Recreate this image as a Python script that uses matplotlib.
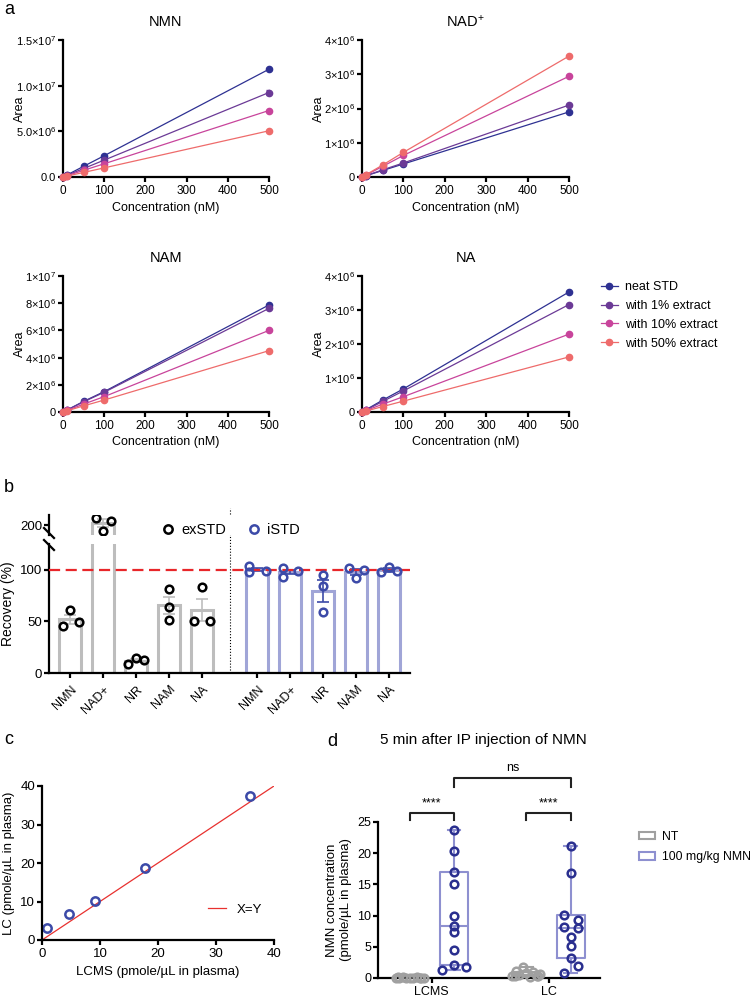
import numpy as np
import matplotlib
matplotlib.use('Agg')
import matplotlib.pyplot as plt
from matplotlib.lines import Line2D
from matplotlib.patches import Patch

plt.rcParams['font.family'] = ['Liberation Sans', 'DejaVu Sans']
plt.rcParams['mathtext.fontset'] = 'custom'
plt.rcParams['mathtext.rm'] = 'Liberation Sans'
plt.rcParams['mathtext.it'] = 'Liberation Sans:italic'
plt.rcParams['mathtext.bf'] = 'Liberation Sans:bold'
plt.rcParams['axes.linewidth'] = 1.6
plt.rcParams['xtick.major.width'] = 1.6
plt.rcParams['ytick.major.width'] = 1.6
plt.rcParams['xtick.major.size'] = 3.5
plt.rcParams['ytick.major.size'] = 3.5
plt.rcParams['xtick.major.pad'] = 2.5
plt.rcParams['ytick.major.pad'] = 1.5
plt.rcParams['xtick.labelsize'] = 8.5
plt.rcParams['ytick.labelsize'] = 8.5
plt.rcParams['axes.labelsize'] = 9

# ---------------- panel a: calibration curves ----------------
conc = [0, 10, 50, 100, 500]
series_names = ['neat STD', 'with 1% extract', 'with 10% extract', 'with 50% extract']
series_colors = ['#2e3192', '#6b3a96', '#c8449b', '#ee6b6b']

nmn_area = [
    [0, 2.3e5, 1.17e6, 2.33e6, 1.18e7],
    [0, 1.85e5, 0.93e6, 1.85e6, 9.25e6],
    [0, 1.45e5, 0.73e6, 1.45e6, 7.28e6],
    [0, 1.0e5, 0.50e6, 1.0e6, 5.06e6],
]
nmn_err_1pct = [0, 0, 0, 0, 0.3e6]
nad_area = [
    [0, 0.04e6, 0.19e6, 0.38e6, 1.90e6],
    [0, 0.04e6, 0.21e6, 0.41e6, 2.10e6],
    [0, 0.06e6, 0.31e6, 0.63e6, 2.94e6],
    [0, 0.07e6, 0.35e6, 0.72e6, 3.53e6],
]
nam_area = [
    [0, 1.5e5, 0.78e6, 1.50e6, 7.87e6],
    [0, 1.45e5, 0.75e6, 1.45e6, 7.62e6],
    [0, 1.15e5, 0.58e6, 1.13e6, 6.00e6],
    [0, 0.9e5, 0.45e6, 0.88e6, 4.51e6],
]
na_area = [
    [0, 0.07e6, 0.35e6, 0.68e6, 3.53e6],
    [0, 0.06e6, 0.31e6, 0.62e6, 3.16e6],
    [0, 0.045e6, 0.23e6, 0.45e6, 2.29e6],
    [0, 0.03e6, 0.16e6, 0.32e6, 1.62e6],
]

nmn_yticks = [0, 5e6, 1e7, 1.5e7]
nmn_ylabels = ['0.0', '5.0×10$^{6}$', '1.0×10$^{7}$', '1.5×10$^{7}$']
small_yticks = [0, 1e6, 2e6, 3e6, 4e6]
small_ylabels = ['0', '1×10$^{6}$', '2×10$^{6}$', '3×10$^{6}$', '4×10$^{6}$']
nam_yticks = [0, 2e6, 4e6, 6e6, 8e6, 1e7]
nam_ylabels = ['0', '2×10$^{6}$', '4×10$^{6}$', '6×10$^{6}$', '8×10$^{6}$', '1×10$^{7}$']

# ---------------- panel b: recovery ----------------
compounds = ['NMN', 'NAD+', 'NR', 'NAM', 'NA']
ex_recovery = [[46, 61, 49], [207, 194, 204], [9, 14.5, 12.5], [81, 64, 51.5], [50, 83, 50]]
is_recovery = [[104, 98, 99], [101.6, 93.5, 98.4], [95, 84, 59.5], [101.6, 92, 100], [97.4, 103, 99]]
ex_jit = [[-0.22, 0, 0.26], [-0.22, 0, 0.25], [-0.23, 0, 0.24], [0, 0, 0], [-0.23, 0, 0.25]]
is_jit = [[-0.25, -0.25, 0.25], [-0.23, -0.23, 0.25], [0, 0, 0], [-0.22, 0, 0.25], [-0.24, 0, 0.24]]

# ---------------- panel c: LC vs LCMS ----------------
lcms_x = [0.86, 4.6, 9.2, 17.8, 35.9]
lc_y = [3.0, 6.7, 10.1, 18.8, 37.4]

# ---------------- panel d: plasma NMN ----------------
methods = ['LCMS', 'LC']
nt_vals = [
    [0.02, 0.05, 0.10, 0.03, 0.08, 0.0, 0.12, 0.06, 0.04, 0.09, 0.07],
    [0.3, 1.2, 0.5, 1.7, 0.8, 0.2, 1.0, 0.4, 0.6, 0.25, 0.35],
]
nmn_vals = [
    [23.77, 20.3, 17.0, 15.06, 9.99, 8.39, 7.37, 4.54, 2.03, 1.23, 1.71],
    [21.1, 16.8, 10.15, 9.35, 8.17, 8.0, 6.5, 5.2, 3.2, 1.87, 0.8],
]
nt_jit = [-0.12, -0.09, -0.06, -0.03, 0.0, 0.03, 0.06, 0.09, 0.12, -0.1, 0.1]
nmn_jit = [
    [0, 0, 0, 0, 0, 0, 0, 0, 0, -0.1, 0.1],
    [0, 0, -0.06, 0.06, -0.06, 0.06, 0, 0, 0, 0.06, -0.06],
]

W, H = 755, 999
fig = plt.figure(figsize=(W / 100, H / 100), dpi=100)


def rect(x0, y0, x1, y1):
    return [x0 / W, 1 - y1 / H, (x1 - x0) / W, (y1 - y0) / H]


def clean(ax):
    ax.spines['top'].set_visible(False)
    ax.spines['right'].set_visible(False)


# ---- panel a
a_specs = [
    ('NMN', nmn_area, (63, 40, 269, 177), 1.5e7, nmn_yticks, nmn_ylabels),
    ('NAD$^{+}$', nad_area, (362, 40, 569, 177), 4e6, small_yticks, small_ylabels),
    ('NAM', nam_area, (63, 276, 269, 412), 1e7, nam_yticks, nam_ylabels),
    ('NA', na_area, (362, 276, 569, 412), 4e6, small_yticks, small_ylabels),
]
for title, data, box, ymax, yt, yl in a_specs:
    ax = fig.add_axes(rect(*box))
    clean(ax)
    for k in range(4):
        ax.plot(conc, data[k], color=series_colors[k], lw=0.9, marker='o', ms=4.5,
                clip_on=False, zorder=3, label=series_names[k])
        if title == 'NMN' and k == 1:
            ax.errorbar(conc, data[k], yerr=nmn_err_1pct, fmt='none', ecolor=series_colors[k],
                        elinewidth=1, capsize=2.5, zorder=3)
    ax.set_xlim(0, 500)
    ax.set_ylim(0, ymax)
    ax.set_xticks([0, 100, 200, 300, 400, 500])
    ax.set_yticks(yt)
    ax.set_yticklabels(yl)
    ax.tick_params(axis='y', labelsize=8)
    ax.set_ylabel('Area')
    ax.yaxis.set_label_coords(-0.18, 0.5)
    ax.set_xlabel('Concentration (nM)', labelpad=3)
    ax.set_title(title, fontsize=10.5, pad=10)
    if title == 'NA':
        handles, labels = ax.get_legend_handles_labels()
        fig.legend(handles, labels, loc='upper left', bbox_to_anchor=(596 / W, 1 - 276 / H),
                   borderaxespad=0, frameon=False, fontsize=9, handlelength=1.35,
                   handletextpad=0.55, labelspacing=0.55)

# ---- panel b
ex_x = np.arange(5)
is_x = np.arange(5) + 5.7
gray = '#bdbdbd'
lav = '#a0a5d7'
blue_pt = '#3c4aa8'
ax_lo = fig.add_axes(rect(49, 544, 410, 673))
ax_hi = fig.add_axes(rect(49, 515, 410, 535))
for ax in (ax_lo, ax_hi):
    clean(ax)
    for xs, vals, jit, ec, pc in ((ex_x, ex_recovery, ex_jit, gray, 'black'),
                                 (is_x, is_recovery, is_jit, lav, blue_pt)):
        means = [np.mean(v) for v in vals]
        sems = [np.std(v, ddof=1) / np.sqrt(len(v)) for v in vals]
        ax.bar(xs, means, width=0.67, facecolor='white', edgecolor=ec, linewidth=2.2, zorder=1)
        ax.errorbar(xs, means, yerr=sems, fmt='none', ecolor=ec if pc == 'black' else blue_pt,
                    elinewidth=1.2, capsize=4, capthick=1.2, zorder=2)
        for xi, v, j in zip(xs, vals, jit):
            ax.plot(xi + np.array(j), v, ls='none', marker='o', ms=5.5, mfc='none', mec=pc,
                    mew=1.8, zorder=4)
    ax.set_xlim(-0.65, 10.35)

ax_lo.set_ylim(0, 125)
ax_lo.set_yticks([0, 50, 100])
ax_lo.axhline(100, color='#e8262a', ls=(0, (5, 2.5)), lw=1.6, zorder=3)
ax_lo.plot([4.85, 4.85], [0, 160], color='black', ls=':', lw=0.8, clip_on=False)
ax_lo.set_xticks(list(ex_x) + list(is_x))
ax_lo.set_xticklabels(compounds + compounds, rotation=45, ha='right', rotation_mode='anchor')
ax_lo.set_ylabel('Recovery (%)', fontsize=10)
ax_lo.yaxis.set_label_coords(-0.093, 0.54)
ax_lo.tick_params(axis='y', labelsize=9.5)
ax_lo.tick_params(axis='x', labelsize=9, pad=4)

ax_hi.set_ylim(190, 210)
ax_hi.set_yticks([200])
ax_hi.tick_params(axis='y', labelsize=9.5)
ax_hi.spines['bottom'].set_visible(False)
ax_hi.set_xticks([])

# break marks on the y spine
for yb in (533, 545):
    fig.add_artist(Line2D([44 / W, 54 / W], [1 - (yb - 5) / H, 1 - (yb + 5) / H],
                          color='black', lw=1.6))

b_handles = [Line2D([], [], ls='none', marker='o', ms=6, mfc='none', mec='black', mew=1.8),
             Line2D([], [], ls='none', marker='o', ms=6, mfc='none', mec=blue_pt, mew=1.8)]
fig.legend(b_handles, ['exSTD', 'iSTD'], ncol=2, loc='center left',
           bbox_to_anchor=(148 / W, 1 - 530 / H), frameon=False, fontsize=10.5,
           handletextpad=0.4, columnspacing=1.4, handlelength=1)

# ---- panel c
ax_c = fig.add_axes(rect(42, 786, 274, 940))
clean(ax_c)
ax_c.plot([0, 40], [0, 40], color='#e8312f', lw=0.9, label='X=Y')
ax_c.plot(lcms_x, lc_y, ls='none', marker='o', ms=6, mfc='none', mec=blue_pt, mew=1.8,
          clip_on=False)
ax_c.set_xlim(0, 40)
ax_c.set_ylim(0, 40)
ax_c.set_xticks([0, 10, 20, 30, 40])
ax_c.set_yticks([0, 10, 20, 30, 40])
ax_c.tick_params(labelsize=9.5)
ax_c.set_xlabel('LCMS (pmole/µL in plasma)', fontsize=9.5)
ax_c.set_ylabel('LC (pmole/µL in plasma)', fontsize=9.5)
ax_c.legend(loc='lower right', frameon=False, fontsize=9.5, handlelength=1.4,
            handletextpad=0.8, bbox_to_anchor=(1.0, 0.08))

# ---- panel d
ax_d = fig.add_axes(rect(378, 822, 600, 978))
clean(ax_d)
off = 0.19
nt_col = '#a0a0a0'
box_col = '#8e90d0'
navy = '#2a2f8f'


def box_stats(v):
    q1, med, q3 = np.percentile(v, [25, 50, 75], method='weibull')
    return dict(med=med, q1=q1, q3=q3, whislo=min(v), whishi=max(v), fliers=[])


for g in range(2):
    for vals, pos, col in ((nt_vals[g], g - off, nt_col), (nmn_vals[g], g + off, box_col)):
        ax_d.bxp([box_stats(vals)], positions=[pos], widths=0.24, showfliers=False,
                 capwidths=0.11,
                 boxprops=dict(color=col, lw=1.5), whiskerprops=dict(color=col, lw=1.5),
                 capprops=dict(color=col, lw=1.5), medianprops=dict(color=col, lw=1.5))
    ax_d.plot(g - off + np.array(nt_jit), nt_vals[g], ls='none', marker='o', ms=5.5,
              mfc='none', mec=nt_col, mew=1.8, clip_on=False, zorder=4)
    ax_d.plot(g + off + np.array(nmn_jit[g]), nmn_vals[g], ls='none', marker='o', ms=5.5,
              mfc='none', mec=navy, mew=1.8, clip_on=False, zorder=4)

ax_d.set_xlim(-0.46, 1.44)
ax_d.set_ylim(0, 25)
ax_d.set_yticks([0, 5, 10, 15, 20, 25])
ax_d.set_xticks([0, 1])
ax_d.set_xticklabels(methods)
ax_d.tick_params(labelsize=9)
ax_d.set_ylabel('NMN concentration\n(pmole/µL in plasma)', fontsize=9.5)

# significance brackets
def bracket(x0, x1, y_top, y_leg, label, ty):
    ax_d.plot([x0, x0, x1, x1], [y_leg, y_top, y_top, y_leg], color='#222222', lw=1.5,
              clip_on=False)
    ax_d.text((x0 + x1) / 2, ty, label, ha='center', va='center', fontsize=9)


for g in range(2):
    bracket(g - off, g + off, 26.4, 25.3, '****', 28.0)
bracket(off, 1 + off, 32.05, 30.6, 'ns', 33.7)

d_handles = [Patch(facecolor='white', edgecolor=nt_col, lw=1.5),
             Patch(facecolor='white', edgecolor=box_col, lw=1.5)]
fig.legend(d_handles, ['NT', '100 mg/kg NMN'], loc='upper left',
           bbox_to_anchor=(634 / W, 1 - 826 / H), borderaxespad=0, frameon=False,
           fontsize=8.8, handlelength=1.3, handleheight=0.6, handletextpad=0.6,
           labelspacing=0.7)

fig.text(483 / W, 1 - 740 / H, '5 min after IP injection of NMN', ha='center', va='center',
         fontsize=11)

# panel letters
for letter, (px, py) in zip('abcd', [(4, 10), (4, 487), (4, 740), (327, 742)]):
    fig.text(px / W, 1 - py / H, letter, fontsize=13, ha='left', va='center')

fig.savefig('out.png', dpi=100)
